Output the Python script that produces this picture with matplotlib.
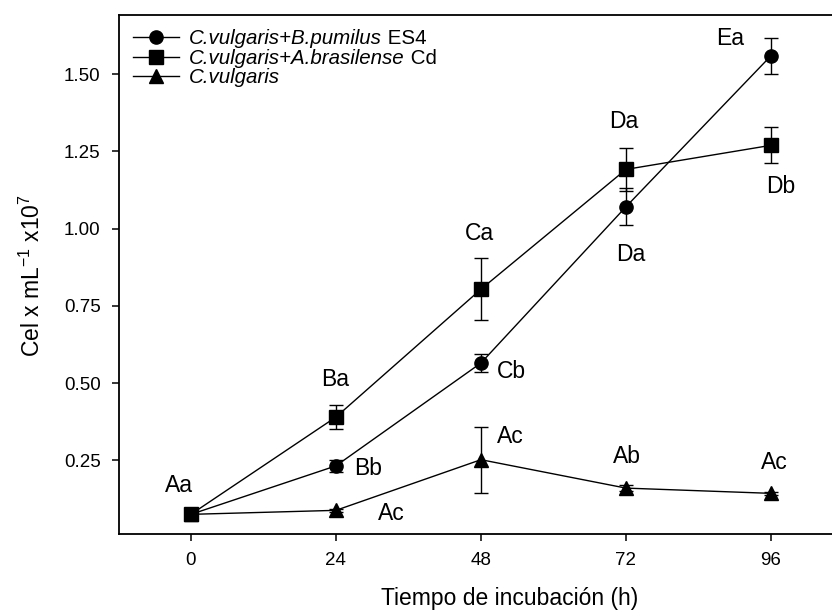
import matplotlib
matplotlib.use("Agg")
import matplotlib.pyplot as plt

plt.rcParams["font.family"] = ["Liberation Sans", "DejaVu Sans"]
plt.rcParams["mathtext.fontset"] = "custom"
plt.rcParams["mathtext.rm"] = "Liberation Sans"
plt.rcParams["mathtext.it"] = "Liberation Sans:italic"

# Incubation time (h)
hours = [0, 24, 48, 72, 96]

# Cell density (x10^7 cells per mL) and error for each treatment
pumilus = [0.075, 0.232, 0.565, 1.071, 1.560]
pumilus_err = [0.005, 0.020, 0.030, 0.060, 0.058]

brasilense = [0.075, 0.390, 0.804, 1.192, 1.270]
brasilense_err = [0.005, 0.038, 0.100, 0.069, 0.058]

vulgaris = [0.075, 0.088, 0.252, 0.160, 0.143]
vulgaris_err = [0.005, 0.004, 0.107, 0.010, 0.004]

# Significance letters: (text, hour, value)
letters = [
    ("Aa", -1.9, 0.170),
    ("Ba", 23.8, 0.512),
    ("Bb", 29.4, 0.224),
    ("Ac", 33.1, 0.078),
    ("Ca", 47.7, 0.985),
    ("Cb", 53.1, 0.537),
    ("Ac", 52.8, 0.326),
    ("Da", 71.7, 1.348),
    ("Da", 72.8, 0.917),
    ("Ab", 72.1, 0.262),
    ("Ea", 89.2, 1.616),
    ("Db", 97.6, 1.136),
    ("Ac", 96.5, 0.242),
]

xticks = [0, 24, 48, 72, 96]
yticks = [0.25, 0.50, 0.75, 1.00, 1.25, 1.50]

legend_names = ["C.vulgaris+B.pumilus", "C.vulgaris+A.brasilense", "C.vulgaris"]
legend_suffixes = [" ES4", " Cd", ""]

fig = plt.figure(figsize=(8.32, 6.14), dpi=100)
ax = fig.add_axes([119 / 832, 80.5 / 614, 1 - 119 / 832, (533.5 - 15) / 614])

common = dict(color="black", lw=1.0, elinewidth=1.0, capsize=5, capthick=1.0,
              markersize=9.5, markeredgecolor="black", markerfacecolor="black")

h1 = ax.errorbar(hours, pumilus, yerr=pumilus_err, marker="o", zorder=3, **common)
h2 = ax.errorbar(hours, brasilense, yerr=brasilense_err, marker="s", zorder=3, **common)
h3 = ax.errorbar(hours, vulgaris, yerr=vulgaris_err, marker="^", zorder=3, **common)

for txt, hx, v in letters:
    ax.text(hx, v, txt, ha="center", va="center", fontsize=16.5)

ax.set_xlim(-11.9, 106.1)
ax.set_ylim(0.013, 1.692)
ax.set_xticks(xticks)
ax.set_xticklabels([str(t) for t in xticks])
ax.set_yticks(yticks)
ax.set_yticklabels([f"{t:.2f}" for t in yticks])

ax.spines["right"].set_visible(False)
for s in ("left", "bottom", "top"):
    ax.spines[s].set_linewidth(1.3)
ax.tick_params(axis="both", direction="out", length=4.8, width=1.1,
               labelsize=13.5, pad=8.5)
ax.tick_params(top=False, right=False)

ax.set_xlabel("Tiempo de incubación (h)", fontsize=16.5)
ax.xaxis.set_label_coords((510 - 119) / (832 - 119), -0.103)
ax.set_ylabel(r"Cel x mL$^{-1}$ x10$^{7}$", fontsize=16.5)
ax.yaxis.set_label_coords(-0.104, 0.497)

leg = ax.legend([h1[0], h2[0], h3[0]], legend_names,
                loc="upper left", bbox_to_anchor=(0.0, 1.0), frameon=False,
                prop={"style": "italic", "size": 14.8}, handlelength=2.2,
                handletextpad=0.5, labelspacing=0.02, borderaxespad=0.3,
                borderpad=0.4)
leg.set_zorder(5)
for t, suf in zip(leg.get_texts(), legend_suffixes):
    if suf:
        ax.annotate(suf, xy=(1, 0), xycoords=t, va="bottom", ha="left",
                    fontsize=14.8, zorder=10)

fig.savefig("out.png", dpi=100)
